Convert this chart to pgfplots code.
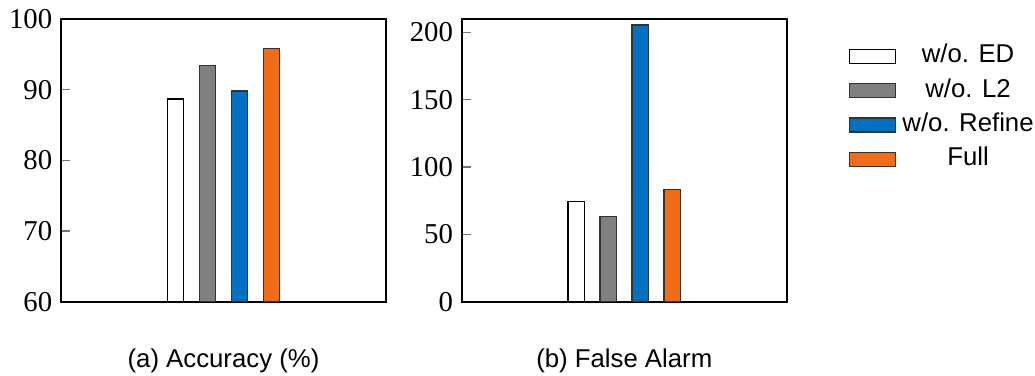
\documentclass[border=0pt]{standalone}
\usepackage{pgfplots}
\pgfplotsset{compat=1.18}
\usepackage{fontspec}
\setmainfont{Liberation Serif}
\setsansfont{Liberation Sans}
\definecolor{myblue}{RGB}{0,112,192}
\definecolor{myorange}{RGB}{242,108,22}
\definecolor{mygray}{RGB}{128,128,128}
\pgfplotsset{
  common/.style={
    anchor=south west,
    scale only axis, width=130pt, height=113.1pt,
    ybar=6.2pt, bar width=6.6pt,
    xmin=-1, xmax=1,
    xtick=\empty,
    ytick pos=left, tick align=inside, major tick length=3.7pt,
    tick style={black!55, line width=0.5pt},
    axis line style={line width=0.6pt},
    /pgf/number format/assume math mode=true,
    yticklabel style={font=\fontsize{11.5}{13}\selectfont},
    xlabel style={font=\sffamily\fontsize{10.3}{12}\selectfont, at={(axis description cs:0.5,0)}, anchor=center, yshift=-23.8pt},
  },
  leg/.style={legend image code/.code={\draw[##1,line width=0.5pt] (0pt,-2.8pt) rectangle (18.4pt,2.8pt);}},
}
\begin{document}
\begin{tikzpicture}
\path[use as bounding box] (0,0) rectangle (414pt,150pt);
\begin{axis}[common, at={(24.4pt,29.3pt)},
  ymin=60, ymax=100, ytick={60,70,80,90,100},
  xlabel={(a) Accuracy (\%)}]
\addplot[draw=black, fill=white, line width=0.5pt] coordinates {(0,88.7)};
\addplot[draw=black!80, fill=mygray, line width=0.5pt] coordinates {(0,93.4)};
\addplot[draw=black!80, fill=myblue, line width=0.5pt] coordinates {(0,89.8)};
\addplot[draw=black!80, fill=myorange, line width=0.5pt] coordinates {(0,95.8)};
\end{axis}
\begin{axis}[common, at={(184.7pt,29.3pt)},
  ymin=0, ymax=210, ytick={0,50,100,150,200},
  xlabel={(b) False Alarm},
  legend cell align=center,
  legend style={draw=none, fill=none, at={(1.1906,0.911)}, anchor=north west,
    inner sep=0pt, row sep=4.2pt,
    nodes={inner sep=0pt, text height=7.3pt, text depth=2.2pt},
    /tikz/every odd column/.append style={column sep=2.4pt},
    font=\sffamily\fontsize{10.3}{12}\selectfont}]
\addplot[draw=black, fill=white, line width=0.5pt, leg] coordinates {(0,74.3)};
\addlegendentry{w/o. ED}
\addplot[draw=black!80, fill=mygray, line width=0.5pt, leg] coordinates {(0,63.5)};
\addlegendentry{w/o. L2}
\addplot[draw=black!80, fill=myblue, line width=0.5pt, leg] coordinates {(0,205.5)};
\addlegendentry{w/o. Refine}
\addplot[draw=black!80, fill=myorange, line width=0.5pt, leg] coordinates {(0,83.3)};
\addlegendentry{Full}
\end{axis}
\end{tikzpicture}
\end{document}
